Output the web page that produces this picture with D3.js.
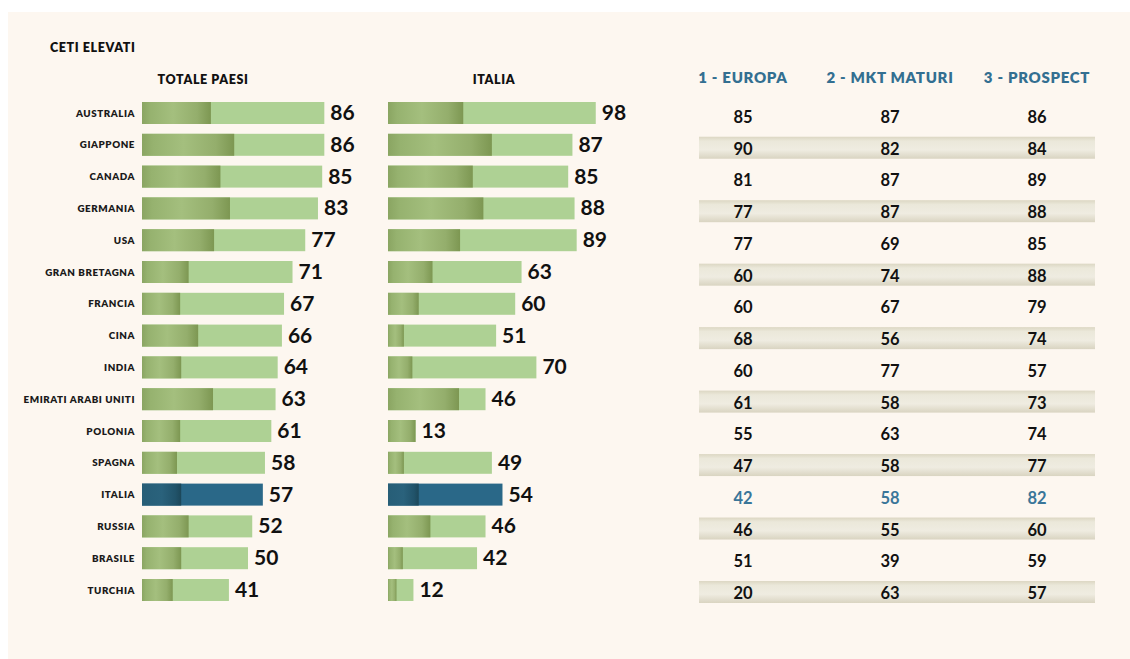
<!DOCTYPE html>
<html>
<head>
<meta charset="utf-8">
<script src="https://cdn.jsdelivr.net/npm/d3@7"></script>
<style>
  html, body { margin: 0; padding: 0; background: #fff; }
  svg { display: block; font-family: Lato, "Open Sans", sans-serif; }
</style>
</head>
<body>
<svg id="chart" width="1130" height="659"></svg>
<script>
const countries = ['AUSTRALIA', 'GIAPPONE', 'CANADA', 'GERMANIA', 'USA', 'GRAN BRETAGNA',
  'FRANCIA', 'CINA', 'INDIA', 'EMIRATI ARABI UNITI', 'POLONIA', 'SPAGNA', 'ITALIA',
  'RUSSIA', 'BRASILE', 'TURCHIA'];
const totale      = [86, 86, 85, 83, 77, 71, 67, 66, 64, 63, 61, 58, 57, 52, 50, 41];
const totaleDark  = [32.5, 43.5, 37, 41.5, 34, 22, 18, 26.5, 18.5, 33.5, 18, 16.5, 18.5, 22, 18.5, 14.5];
const italia      = [98, 87, 85, 88, 89, 63, 60, 51, 70, 46, 13, 49, 54, 46, 42, 12];
const italiaDark  = [35.5, 49, 40, 45, 34, 21, 14.5, 7.5, 11.5, 33.5, 13, 7.5, 14.5, 20, 7, 4];
const tableHeads  = ['1 - EUROPA', '2 - MKT MATURI', '3 - PROSPECT'];
const europa      = [85, 90, 81, 77, 77, 60, 60, 68, 60, 61, 55, 47, 42, 46, 51, 20];
const mktMaturi   = [87, 82, 87, 87, 69, 74, 67, 56, 77, 58, 63, 58, 58, 55, 39, 63];
const prospect    = [86, 84, 89, 88, 85, 88, 79, 74, 57, 73, 74, 77, 82, 60, 59, 57];
const HIGHLIGHT = 'ITALIA';

const svg = d3.select('#chart');
const defs = svg.append('defs');

function hGrad(id, stops) {
  const g = defs.append('linearGradient').attr('id', id)
    .attr('x1', 0).attr('x2', 1).attr('y1', 0).attr('y2', 0);
  stops.forEach(([o, c]) => g.append('stop').attr('offset', o).attr('stop-color', c));
}
hGrad('gDark', [[0, '#8aa562'], [0.12, '#96b26f'], [0.45, '#a4bf7e'], [0.8, '#94ae6c'], [1, '#7d9752']]);
hGrad('gBlue', [[0, '#275e77'], [0.5, '#2a627c'], [0.85, '#21536a'], [1, '#1c4759']]);
const sg = defs.append('linearGradient').attr('id', 'gStripe')
  .attr('x1', 0).attr('x2', 0).attr('y1', 0).attr('y2', 1);
[[0, '#dcd7c3'], [0.2, '#ebe8da'], [0.6, '#efece1'], [1, '#d9d4c1']]
  .forEach(([o, c]) => sg.append('stop').attr('offset', o).attr('stop-color', c));

// pannello
svg.append('rect').attr('x', 8).attr('y', 12).attr('width', 1122).attr('height', 647)
  .attr('fill', '#fdf7f0');

svg.append('text').attr('x', 50).attr('y', 52).text('CETI ELEVATI')
  .attr('font-size', 12.5).attr('font-weight', 800).attr('letter-spacing', 0.6).attr('fill', '#111');

const y = d3.scalePoint().domain(countries).range([113, 590]);
const BAR_H = 22;
const xTot = d3.scaleLinear().domain([0, 100]).range([142, 354]);
const xIta = d3.scaleLinear().domain([0, 100]).range([388, 600]);

function barGroup(title, titleX, x, vals, dark) {
  const g = svg.append('g');
  g.append('text').attr('x', titleX).attr('y', 84).attr('text-anchor', 'middle')
    .text(title).attr('font-size', 12.5).attr('font-weight', 800).attr('letter-spacing', 0.6)
    .attr('fill', '#111');
  const rows = g.selectAll('g.row').data(countries).join('g').attr('class', 'row');
  rows.append('rect')
    .attr('x', x(0)).attr('y', d => y(d) - BAR_H / 2)
    .attr('width', (d, i) => x(vals[i]) - x(0)).attr('height', BAR_H)
    .attr('fill', d => d === HIGHLIGHT ? '#2a6888' : '#aed194');
  rows.append('rect')
    .attr('x', x(0)).attr('y', d => y(d) - BAR_H / 2)
    .attr('width', (d, i) => x(dark[i]) - x(0)).attr('height', BAR_H)
    .attr('fill', d => d === HIGHLIGHT ? 'url(#gBlue)' : 'url(#gDark)');
  rows.append('text')
    .attr('x', (d, i) => x(vals[i]) + 6).attr('y', d => y(d) + 7)
    .text((d, i) => vals[i])
    .attr('font-size', 21).attr('font-weight', 700).attr('fill', '#111');
}

// etichette paesi
svg.append('g').selectAll('text').data(countries).join('text')
  .attr('x', 135).attr('y', d => y(d) + 3.5).attr('text-anchor', 'end')
  .text(d => d).attr('font-size', 9.8).attr('font-weight', 800).attr('letter-spacing', 0.55)
  .attr('fill', '#1a1a1a');

barGroup('TOTALE PAESI', 203, xTot, totale, totaleDark);
barGroup('ITALIA', 494, xIta, italia, italiaDark);

// tabella
const yT = d3.scalePoint().domain(countries).range([117, 593]);
const colX = d3.scalePoint().domain(tableHeads).range([743, 1037]);
const cols = [europa, mktMaturi, prospect];

const tg = svg.append('g');
tg.selectAll('rect.stripe').data(countries.filter((d, i) => i % 2 === 1)).join('rect')
  .attr('class', 'stripe')
  .attr('x', 699).attr('width', 396)
  .attr('y', d => yT(d) - 12).attr('height', 22)
  .attr('fill', 'url(#gStripe)');

tg.selectAll('text.head').data(tableHeads).join('text').attr('class', 'head')
  .attr('x', d => colX(d)).attr('y', 83).attr('text-anchor', 'middle')
  .text(d => d).attr('font-size', 15).attr('font-weight', 800).attr('letter-spacing', 0.7)
  .attr('fill', '#336f91');

cols.forEach((vals, c) => {
  tg.append('g').selectAll('text').data(countries).join('text')
    .attr('x', colX(tableHeads[c])).attr('y', d => yT(d) + 6).attr('text-anchor', 'middle')
    .text((d, i) => vals[i])
    .attr('font-size', 16.5).attr('font-weight', 700)
    .attr('fill', d => d === HIGHLIGHT ? '#3a7699' : '#111');
});
</script>
</body>
</html>
